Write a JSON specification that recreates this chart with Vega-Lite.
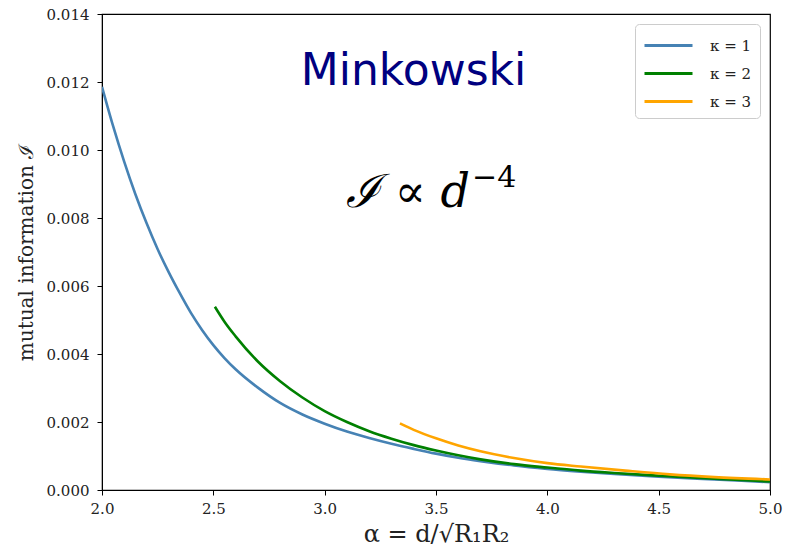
{
  "$schema": "https://vega.github.io/schema/vega-lite/v6.json",
  "width": 668,
  "height": 476,
  "autosize": {"type": "none"},
  "padding": {"left": 102, "top": 14, "right": 18, "bottom": 70},
  "background": "white",
  "config": {
    "view": {"stroke": "black", "strokeWidth": 1.2},
    "font": "DejaVu Serif",
    "axis": {
      "grid": false,
      "domainColor": "black",
      "tickColor": "black",
      "labelColor": "#222",
      "titleColor": "#222",
      "labelFont": "DejaVu Serif",
      "titleFont": "DejaVu Serif",
      "labelFontSize": 15,
      "titleFontWeight": "normal",
      "tickSize": 5,
      "labelFlush": false
    }
  },
  "datasets": {
    "curves": [
      {"alpha": 2.0, "I": 0.01186, "series": "κ = 1"},
      {"alpha": 2.05, "I": 0.0107, "series": "κ = 1"},
      {"alpha": 2.1, "I": 0.00965, "series": "κ = 1"},
      {"alpha": 2.15, "I": 0.0087, "series": "κ = 1"},
      {"alpha": 2.2, "I": 0.00785, "series": "κ = 1"},
      {"alpha": 2.25, "I": 0.00708, "series": "κ = 1"},
      {"alpha": 2.3, "I": 0.0064, "series": "κ = 1"},
      {"alpha": 2.35, "I": 0.00578, "series": "κ = 1"},
      {"alpha": 2.4, "I": 0.0052, "series": "κ = 1"},
      {"alpha": 2.45, "I": 0.0047, "series": "κ = 1"},
      {"alpha": 2.5, "I": 0.00426, "series": "κ = 1"},
      {"alpha": 2.55, "I": 0.00388, "series": "κ = 1"},
      {"alpha": 2.6, "I": 0.00355, "series": "κ = 1"},
      {"alpha": 2.7, "I": 0.00301, "series": "κ = 1"},
      {"alpha": 2.8, "I": 0.00256, "series": "κ = 1"},
      {"alpha": 2.9, "I": 0.00222, "series": "κ = 1"},
      {"alpha": 3.0, "I": 0.00195, "series": "κ = 1"},
      {"alpha": 3.1, "I": 0.00172, "series": "κ = 1"},
      {"alpha": 3.2, "I": 0.00153, "series": "κ = 1"},
      {"alpha": 3.3, "I": 0.00136, "series": "κ = 1"},
      {"alpha": 3.4, "I": 0.00121, "series": "κ = 1"},
      {"alpha": 3.5, "I": 0.00107, "series": "κ = 1"},
      {"alpha": 3.6, "I": 0.00095, "series": "κ = 1"},
      {"alpha": 3.7, "I": 0.00085, "series": "κ = 1"},
      {"alpha": 3.85, "I": 0.00072, "series": "κ = 1"},
      {"alpha": 4.0, "I": 0.00062, "series": "κ = 1"},
      {"alpha": 4.15, "I": 0.00054, "series": "κ = 1"},
      {"alpha": 4.3, "I": 0.00047, "series": "κ = 1"},
      {"alpha": 4.5, "I": 0.00039, "series": "κ = 1"},
      {"alpha": 4.75, "I": 0.00031, "series": "κ = 1"},
      {"alpha": 5.0, "I": 0.00023, "series": "κ = 1"},
      {"alpha": 2.507, "I": 0.00539, "series": "κ = 2"},
      {"alpha": 2.55, "I": 0.00495, "series": "κ = 2"},
      {"alpha": 2.6, "I": 0.00452, "series": "κ = 2"},
      {"alpha": 2.7, "I": 0.00378, "series": "κ = 2"},
      {"alpha": 2.8, "I": 0.0032, "series": "κ = 2"},
      {"alpha": 2.9, "I": 0.00272, "series": "κ = 2"},
      {"alpha": 3.0, "I": 0.00232, "series": "κ = 2"},
      {"alpha": 3.1, "I": 0.002, "series": "κ = 2"},
      {"alpha": 3.2, "I": 0.00173, "series": "κ = 2"},
      {"alpha": 3.3, "I": 0.00151, "series": "κ = 2"},
      {"alpha": 3.4, "I": 0.00132, "series": "κ = 2"},
      {"alpha": 3.5, "I": 0.00116, "series": "κ = 2"},
      {"alpha": 3.6, "I": 0.00102, "series": "κ = 2"},
      {"alpha": 3.7, "I": 0.0009, "series": "κ = 2"},
      {"alpha": 3.85, "I": 0.00076, "series": "κ = 2"},
      {"alpha": 4.0, "I": 0.00066, "series": "κ = 2"},
      {"alpha": 4.15, "I": 0.00057, "series": "κ = 2"},
      {"alpha": 4.3, "I": 0.0005, "series": "κ = 2"},
      {"alpha": 4.5, "I": 0.00042, "series": "κ = 2"},
      {"alpha": 4.75, "I": 0.00033, "series": "κ = 2"},
      {"alpha": 5.0, "I": 0.00025, "series": "κ = 2"},
      {"alpha": 3.338, "I": 0.00196, "series": "κ = 3"},
      {"alpha": 3.4, "I": 0.00177, "series": "κ = 3"},
      {"alpha": 3.5, "I": 0.00152, "series": "κ = 3"},
      {"alpha": 3.6, "I": 0.00131, "series": "κ = 3"},
      {"alpha": 3.7, "I": 0.00114, "series": "κ = 3"},
      {"alpha": 3.85, "I": 0.00094, "series": "κ = 3"},
      {"alpha": 4.0, "I": 0.00079, "series": "κ = 3"},
      {"alpha": 4.15, "I": 0.00069, "series": "κ = 3"},
      {"alpha": 4.35, "I": 0.00057, "series": "κ = 3"},
      {"alpha": 4.55, "I": 0.00046, "series": "κ = 3"},
      {"alpha": 4.75, "I": 0.00038, "series": "κ = 3"},
      {"alpha": 5.0, "I": 0.00031, "series": "κ = 3"}
    ],
    "labels": [
      {"alpha": 3.399, "I": 0.01191, "text": "Minkowski", "kind": "name"},
      {"alpha": 3.653, "I": 0.00832, "text": "ℐ ∝ d", "kind": "law"},
      {"alpha": 3.653, "I": 0.00891, "text": "−4", "kind": "sup"}
    ]
  },
  "layer": [
    {
      "data": {"name": "curves"},
      "mark": {"type": "line", "strokeWidth": 2.6, "interpolate": "monotone", "clip": true},
      "encoding": {
        "x": {
          "field": "alpha", "type": "quantitative",
          "scale": {"domain": [2, 5], "nice": false},
          "axis": {"values": [2, 2.5, 3, 3.5, 4, 4.5, 5], "format": ".1f", "title": "α = d/√R₁R₂", "titleFontSize": 24, "titlePadding": 6, "labelPadding": 6}
        },
        "y": {
          "field": "I", "type": "quantitative",
          "scale": {"domain": [0, 0.014], "nice": false},
          "axis": {"values": [0, 0.002, 0.004, 0.006, 0.008, 0.01, 0.012, 0.014], "format": ".3f", "title": "mutual information ℐ", "titleFontSize": 20, "titlePadding": 10, "labelPadding": 8}
        },
        "color": {
          "field": "series", "type": "nominal",
          "scale": {"domain": ["κ = 1", "κ = 2", "κ = 3"], "range": ["#4682B4", "#008000", "#FFA500"]},
          "legend": {
            "title": null,
            "orient": "top-right",
            "offset": 10,
            "symbolType": "M-1,0H3",
            "symbolSize": 576,
            "symbolStrokeWidth": 3,
            "labelFontSize": 15,
            "labelFont": "DejaVu Serif",
            "labelColor": "#222",
            "rowPadding": 6,
            "padding": 8,
            "fillColor": "white",
            "strokeColor": "#cccccc",
            "cornerRadius": 4,
            "labelOffset": 40
          }
        }
      }
    },
    {
      "data": {"name": "labels"},
      "transform": [{"filter": "datum.kind === 'name'"}],
      "mark": {"type": "text", "font": "DejaVu Sans", "fontSize": 44, "color": "#000080", "align": "center", "baseline": "alphabetic"},
      "encoding": {
        "x": {"field": "alpha", "type": "quantitative"},
        "y": {"field": "I", "type": "quantitative"},
        "text": {"field": "text"}
      }
    },
    {
      "data": {"name": "labels"},
      "transform": [{"filter": "datum.kind === 'law'"}],
      "mark": {"type": "text", "font": "DejaVu Serif", "fontSize": 46, "fontStyle": "italic", "color": "black", "align": "right", "baseline": "alphabetic"},
      "encoding": {
        "x": {"field": "alpha", "type": "quantitative"},
        "y": {"field": "I", "type": "quantitative"},
        "text": {"field": "text"}
      }
    },
    {
      "data": {"name": "labels"},
      "transform": [{"filter": "datum.kind === 'sup'"}],
      "mark": {"type": "text", "font": "DejaVu Serif", "fontSize": 30, "color": "black", "align": "left", "baseline": "alphabetic", "dx": 2},
      "encoding": {
        "x": {"field": "alpha", "type": "quantitative"},
        "y": {"field": "I", "type": "quantitative"},
        "text": {"field": "text"}
      }
    }
  ]
}
